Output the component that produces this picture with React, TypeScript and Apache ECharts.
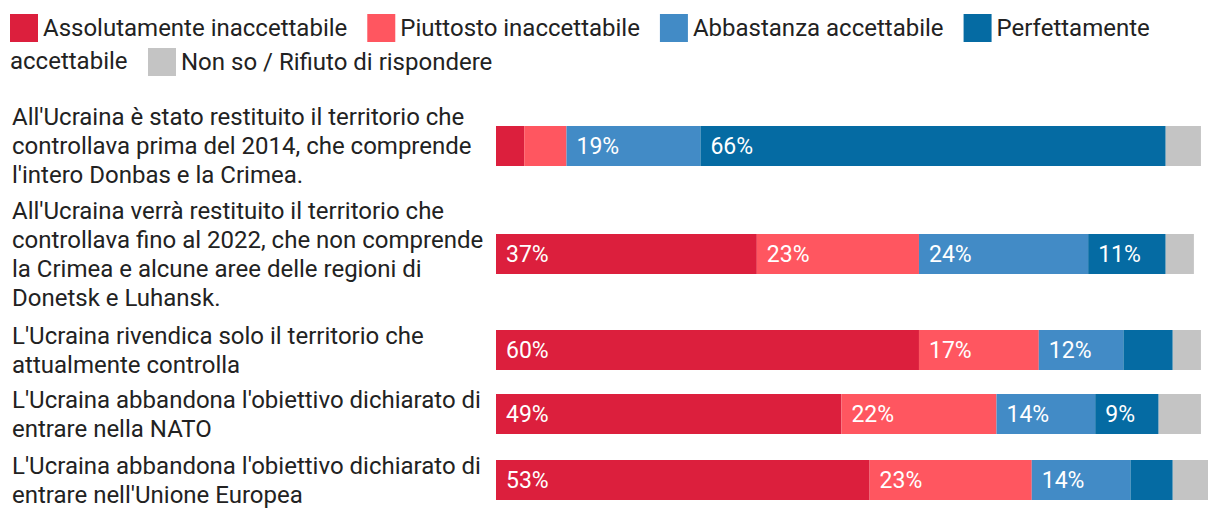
import React, { useEffect, useRef } from "react";
import * as echarts from "echarts";

const categories = [
  "All'Ucraina è stato restituito il territorio che\ncontrollava prima del 2014, che comprende\nl'intero Donbas e la Crimea.",
  "All'Ucraina verrà restituito il territorio che\ncontrollava fino al 2022, che non comprende\nla Crimea e alcune aree delle regioni di\nDonetsk e Luhansk.",
  "L'Ucraina rivendica solo il territorio che\nattualmente controlla",
  "L'Ucraina abbandona l'obiettivo dichiarato di\nentrare nella NATO",
  "L'Ucraina abbandona l'obiettivo dichiarato di\nentrare nell'Unione Europea",
];

const seriesNames = [
  "Assolutamente inaccettabile",
  "Piuttosto inaccettabile",
  "Abbastanza accettabile",
  "Perfettamente accettabile",
  "Non so / Rifiuto di rispondere",
];

const assolutamente = [4, 37, 60, 49, 53];
const piuttosto = [6, 23, 17, 22, 23];
const abbastanza = [19, 24, 12, 14, 14];
const perfettamente = [66, 11, 7, 9, 6];
const nonSo = [5, 4, 4, 6, 5];

const seriesValues = [assolutamente, piuttosto, abbastanza, perfettamente, nonSo];
const colors = ["#DC1F3D", "#FF5660", "#428BC6", "#056BA3", "#C4C4C4"];

const FONT = "Roboto";
const TEXT = "#222222";
const rowTops = [126, 234, 330, 394, 460];
const BAR_H = 40;

export default function App() {
  const ref = useRef<HTMLDivElement>(null);

  useEffect(() => {
    document.body.style.margin = "0";
    if (!ref.current) return;
    const chart = echarts.init(ref.current, undefined, { renderer: "svg" });

    const grids = categories.map((_, i) => ({
      left: 496,
      width: 712,
      top: rowTops[i],
      height: BAR_H,
      containLabel: false,
    }));
    const xAxes = categories.map((_, i) => ({
      type: "value",
      gridIndex: i,
      min: 0,
      max: 101,
      show: false,
    }));
    const yAxes = categories.map((c, i) => ({
      type: "category",
      gridIndex: i,
      data: [c],
      axisLine: { show: false },
      axisTick: { show: false },
      splitLine: { show: false },
      axisLabel: {
        align: "left",
        margin: 484,
        fontSize: 24,
        lineHeight: 29,
        color: TEXT,
        fontFamily: FONT,
      },
    }));

    const series: any[] = [];
    seriesNames.forEach((name, s) => {
      categories.forEach((_, i) => {
        series.push({
          type: "bar",
          name,
          stack: "row" + i,
          xAxisIndex: i,
          yAxisIndex: i,
          barWidth: BAR_H,
          data: [seriesValues[s][i]],
          itemStyle: { color: colors[s] },
          label: {
            show: true,
            position: "insideLeft",
            distance: 10,
            color: "#ffffff",
            fontSize: 23,
            fontFamily: FONT,
            formatter: (p: any) => (p.value >= 9 ? p.value + "%" : ""),
          },
          emphasis: { disabled: true },
        });
      });
    });

    chart.setOption({
      animation: false,
      textStyle: { fontFamily: FONT },
      legend: [
        {
          data: seriesNames.slice(0, 4),
          left: 10,
          top: 14,
          icon: "rect",
          itemWidth: 28,
          itemHeight: 28,
          itemGap: 20,
          padding: 0,
          textStyle: { fontSize: 24, color: TEXT, fontFamily: FONT },
          formatter: (n: string) => (n === "Perfettamente accettabile" ? "Perfettamente" : n),
        },
        {
          data: seriesNames.slice(4),
          left: 148,
          top: 48,
          icon: "rect",
          itemWidth: 28,
          itemHeight: 28,
          padding: 0,
          textStyle: { fontSize: 24, color: TEXT, fontFamily: FONT },
        },
      ],
      graphic: [
        {
          type: "text",
          left: 10,
          top: 49,
          style: { text: "accettabile", fontSize: 24, fill: TEXT, fontFamily: FONT },
        },
      ],
      grid: grids,
      xAxis: xAxes,
      yAxis: yAxes,
      series,
    });

    return () => chart.dispose();
  }, []);

  return <div ref={ref} style={{ width: 1220, height: 520 }} />;
}
